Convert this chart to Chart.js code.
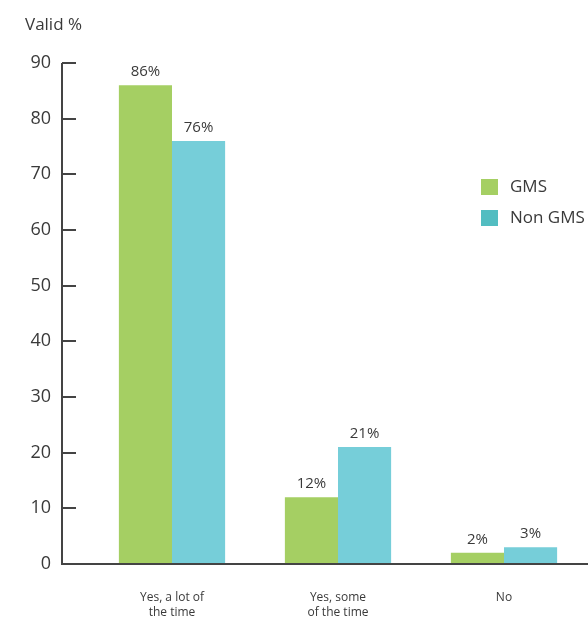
<!DOCTYPE html>
<html>
<head>
<meta charset="utf-8">
<script src="https://cdn.jsdelivr.net/npm/chart.js@4"></script>
<style>
  html, body { margin: 0; padding: 0; background: #fff; }
  #wrap { width: 588px; height: 619px; }
</style>
</head>
<body>
<div id="wrap"><canvas id="c" width="588" height="619"></canvas></div>
<script>
const categories = [["Yes, a lot of", "the time"], ["Yes, some", "of the time"], "No"];
const seriesNames = ["GMS", "Non GMS"];
const gmsValues = [86, 12, 2];
const nonGmsValues = [76, 21, 3];
const yTicks = [0, 10, 20, 30, 40, 50, 60, 70, 80, 90];

const barColors = ["#a5cf63", "#76ced9"];
const legendColors = ["#a5cf63", "#52bdc1"];
const textColor = "#3a3a3a";
const axisColor = "#444444";
const FONT = "'Open Sans', 'Noto Sans', sans-serif";

// Axis frame: vertical axis offset to the left of the plot, inward tick marks, long baseline
const axisFrame = {
  id: "axisFrame",
  afterDraw(chart) {
    const ctx = chart.ctx;
    const y = chart.scales.y;
    const axisX = 62;
    ctx.save();
    ctx.strokeStyle = axisColor;
    ctx.lineWidth = 2;
    ctx.beginPath();
    ctx.moveTo(axisX, y.getPixelForValue(yTicks[yTicks.length - 1]));
    ctx.lineTo(axisX, y.getPixelForValue(0) + 1);
    ctx.stroke();
    yTicks.forEach(v => {
      if (v === 0) return;
      const py = Math.round(y.getPixelForValue(v));
      ctx.beginPath();
      ctx.moveTo(axisX, py);
      ctx.lineTo(axisX + 14, py);
      ctx.stroke();
    });
    const by = Math.round(y.getPixelForValue(0));
    ctx.beginPath();
    ctx.moveTo(axisX - 1, by);
    ctx.lineTo(chart.width, by);
    ctx.stroke();
    ctx.restore();
  }
};

// Value labels above bars, axis caption and legend
const annotations = {
  id: "annotations",
  afterDatasetsDraw(chart) {
    const ctx = chart.ctx;
    ctx.save();
    ctx.fillStyle = textColor;
    ctx.font = "15px " + FONT;
    ctx.textAlign = "center";
    ctx.textBaseline = "bottom";
    chart.data.datasets.forEach((ds, di) => {
      chart.getDatasetMeta(di).data.forEach((bar, i) => {
        ctx.fillText(ds.data[i] + "%", bar.x, bar.y - 6);
      });
    });

    ctx.textAlign = "left";
    ctx.textBaseline = "middle";
    ctx.font = "17px " + FONT;
    ctx.fillText("Valid %", 25, 25);

    ctx.font = "17px " + FONT;
    seriesNames.forEach((name, i) => {
      const top = 179 + i * 31;
      ctx.fillStyle = legendColors[i];
      ctx.fillRect(481, top, 17, 16);
      ctx.fillStyle = textColor;
      ctx.fillText(name, 510, top + 8);
    });
    ctx.restore();
  }
};

new Chart(document.getElementById("c"), {
  type: "bar",
  data: {
    labels: categories,
    datasets: [
      { label: seriesNames[0], data: gmsValues, backgroundColor: barColors[0] },
      { label: seriesNames[1], data: nonGmsValues, backgroundColor: barColors[1] }
    ]
  },
  options: {
    responsive: false,
    animation: false,
    events: [],
    layout: { padding: { top: 63, right: 1, bottom: 0, left: 0 } },
    datasets: { bar: { categoryPercentage: 0.64, barPercentage: 1.0 } },
    plugins: { legend: { display: false }, tooltip: { enabled: false } },
    scales: {
      x: {
        grid: { display: false, drawTicks: false },
        border: { display: false },
        ticks: { color: textColor, font: { family: FONT, size: 12, lineHeight: 1.25 }, padding: 26, maxRotation: 0, autoSkip: false },
        afterFit(scale) { scale.height = 55; }
      },
      y: {
        min: 0,
        max: 90,
        grid: { display: false, drawTicks: false },
        border: { display: false },
        ticks: { stepSize: 10, color: textColor, font: { family: FONT, size: 18 }, padding: 38 },
        afterFit(scale) { scale.width = 89; }
      }
    }
  },
  plugins: [axisFrame, annotations]
});
</script>
</body>
</html>
